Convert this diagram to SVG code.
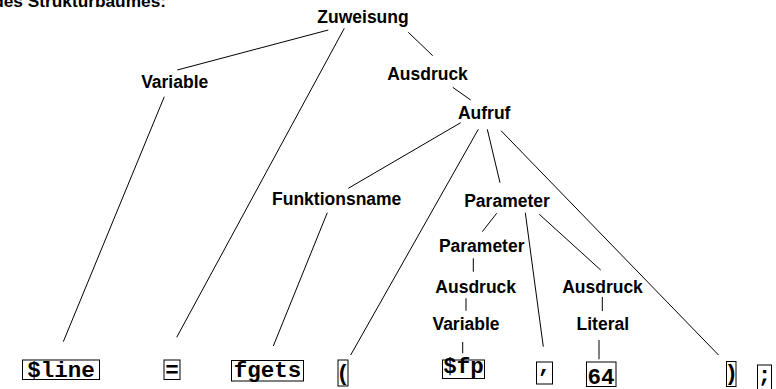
<svg xmlns="http://www.w3.org/2000/svg" width="776" height="389" viewBox="0 0 776 389">
<style>
.lbl{font-family:"Liberation Sans",Arial,sans-serif;font-weight:bold;font-size:17.5px;text-anchor:middle;fill:#000}
.ttl{font-family:"Liberation Sans",Arial,sans-serif;font-weight:bold;font-size:17.3px;fill:#000}
.tok rect{fill:#fff;stroke:#000;stroke-width:1}
.tok text{font-family:"Liberation Mono","Courier New",monospace;font-weight:bold;font-size:22.5px;text-anchor:middle;fill:#000}
#edges line{stroke:#000;stroke-width:1;fill:none}
</style>
<rect width="776" height="389" fill="#fff"/>
<text id="title" class="ttl" x="166" y="6.5" text-anchor="end">des Strukturbaumes:</text>
<g id="edges">
<line x1="328.3" y1="30" x2="177.3" y2="70"/>
<line x1="344.3" y1="28.3" x2="176.7" y2="337.3"/>
<line x1="408.3" y1="32.3" x2="432.7" y2="55.7"/>
<line x1="164.3" y1="96.7" x2="63.3" y2="341.7"/>
<line x1="452.7" y1="87.3" x2="470.7" y2="100"/>
<line x1="460.7" y1="122.7" x2="348.3" y2="188.3"/>
<line x1="478.3" y1="129.3" x2="350.7" y2="355"/>
<line x1="487.3" y1="129.3" x2="500" y2="182.7"/>
<line x1="501" y1="130.7" x2="718.5" y2="355"/>
<line x1="327.3" y1="212.7" x2="273.3" y2="346"/>
<line x1="496.7" y1="213.3" x2="482.3" y2="231.7"/>
<line x1="525.3" y1="212.7" x2="543.3" y2="346.7"/>
<line x1="539.3" y1="214.3" x2="600.7" y2="270"/>
<line x1="473.3" y1="258.3" x2="473.3" y2="271.7"/>
<line x1="466" y1="298.3" x2="466" y2="310.7"/>
<line x1="602.3" y1="297" x2="602.3" y2="311"/>
<line x1="462.7" y1="342" x2="462.7" y2="353.3"/>
<line x1="599" y1="340" x2="599" y2="359.3"/>
</g>
<g id="n_zuweisung"><text class="lbl" x="363" y="23">Zuweisung</text></g>
<g id="n_variable1"><text class="lbl" x="174.7" y="88.3">Variable</text></g>
<g id="n_ausdruck1"><text class="lbl" x="427.5" y="80">Ausdruck</text></g>
<g id="n_aufruf"><text class="lbl" x="484.2" y="118.5">Aufruf</text></g>
<g id="n_funktionsname"><text class="lbl" x="336.7" y="205">Funktionsname</text></g>
<g id="n_parameter1"><text class="lbl" x="507" y="207.3">Parameter</text></g>
<g id="n_parameter2"><text class="lbl" x="481.7" y="251.7">Parameter</text></g>
<g id="n_ausdruck2"><text class="lbl" x="475.7" y="293.3">Ausdruck</text></g>
<g id="n_variable2"><text class="lbl" x="466" y="330">Variable</text></g>
<g id="n_ausdruck3"><text class="lbl" x="602.5" y="293.3">Ausdruck</text></g>
<g id="n_literal"><text class="lbl" x="602.8" y="330">Literal</text></g>
<g id="t_line" class="tok"><rect x="22.5" y="360" width="77" height="19.5"/><text x="61" y="376.5">$line</text></g>
<g id="t_eq" class="tok"><rect x="164" y="360" width="16" height="19.5"/><text x="172" y="376.5">=</text></g>
<g id="t_fgets" class="tok"><rect x="231.5" y="360.5" width="72" height="20.5"/><text x="267.5" y="376.5">fgets</text></g>
<g id="t_lparen" class="tok"><rect x="338" y="360" width="10" height="26"/><text x="343" y="379.5">(</text></g>
<g id="t_fp" class="tok"><rect x="442.5" y="360" width="42" height="18.5"/><text x="463.5" y="373">$fp</text></g>
<g id="t_comma" class="tok"><rect x="536.5" y="362" width="16" height="22"/><text x="544.5" y="372">,</text></g>
<g id="t_64" class="tok"><rect x="586.5" y="362" width="29.5" height="24.5"/><text x="601" y="383.5">64</text></g>
<g id="t_rparen" class="tok"><rect x="726.5" y="361.5" width="9.5" height="25"/><text x="731.2" y="380">)</text></g>
<g id="t_semi" class="tok"><rect x="757.5" y="365" width="14" height="26"/><text x="764.5" y="381.5">;</text></g>
</svg>
